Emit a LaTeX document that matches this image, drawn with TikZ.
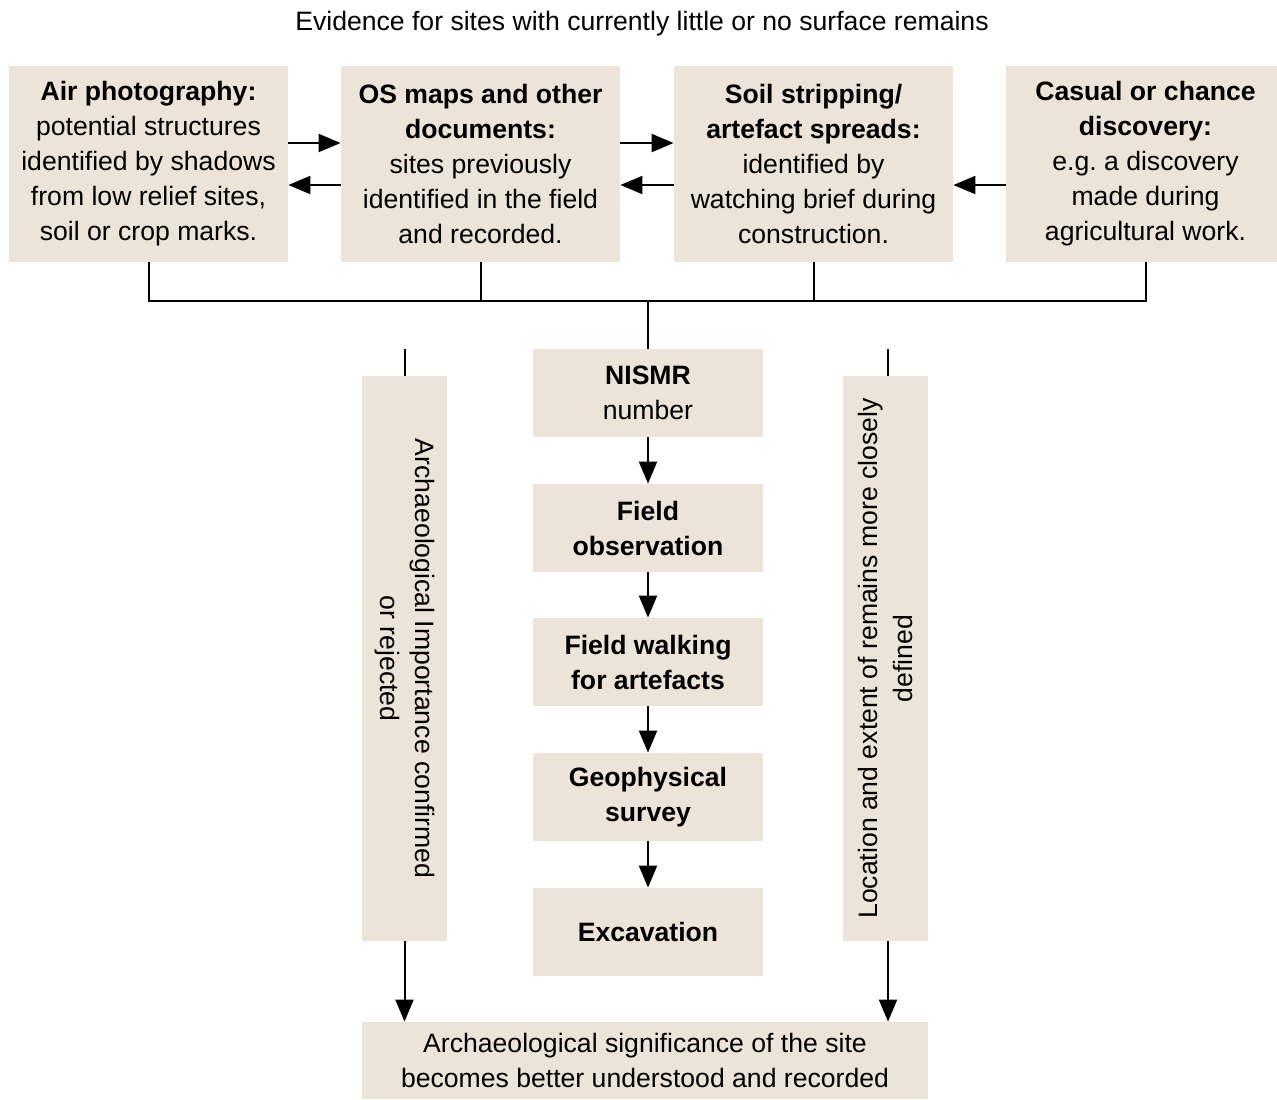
\documentclass[tikz,border=0pt]{standalone}
\usepackage{fontspec}
\setmainfont{Liberation Sans}
\usepackage{xcolor}
\usetikzlibrary{positioning,arrows.meta,calc}

\definecolor{boxbeige}{HTML}{ECE4D8}

\tikzset{
  box/.style={fill=boxbeige, align=center, inner sep=0pt,
    font=\fontsize{13.3}{17.5}\selectfont},
  evbox/.style={box, minimum width=139.5pt, minimum height=98pt},
  stepbox/.style={box, minimum width=115pt, minimum height=44pt, font=\fontsize{13.3}{17.5}\selectfont\bfseries},
  sidebar/.style={box, minimum width=282.5pt, minimum height=42.5pt},
  link/.style={line width=1pt},
  flow/.style={line width=1pt, -{Triangle[length=11pt,width=9pt]}}
}

\begin{document}
\begin{tikzpicture}[x=0.5pt, y=-0.5pt]
\useasboundingbox (0,0) rectangle (1277,1099);

% Title
\node[font=\fontsize{13.3}{17.5}\selectfont] (title) at (642,24)
  {Evidence for sites with currently little or no surface remains};

% Evidence boxes
\node[evbox] (air) at (148.5,164)
  {\textbf{Air photography:}\\potential structures\\identified by shadows\\from low relief sites,\\soil or crop marks.};
\node[evbox] (os) at (480.5,164)
  {\textbf{OS maps and other}\\\textbf{documents:}\\sites previously\\identified in the field\\and recorded.};
\node[evbox] (soil) at (813.5,164)
  {\textbf{Soil stripping/}\\\textbf{artefact spreads:}\\identified by\\watching brief during\\construction.};
\node[evbox] (casual) at (1145.5,164)
  {\textbf{Casual or chance}\\\textbf{discovery:}\\e.g.\ a discovery\\made during\\agricultural work.};

% Arrows between evidence boxes
\draw[flow] ([yshift=10.5pt]air.east) -- ([yshift=10.5pt]os.west);
\draw[flow] ([yshift=-10.5pt]os.west) -- ([yshift=-10.5pt]air.east);
\draw[flow] ([yshift=10.5pt]os.east) -- ([yshift=10.5pt]soil.west);
\draw[flow] ([yshift=-10.5pt]soil.west) -- ([yshift=-10.5pt]os.east);
\draw[flow] ([yshift=-10.5pt]casual.west) -- ([yshift=-10.5pt]soil.east);

% Central steps
\node[stepbox] (nismr) at (648,393) {NISMR\\\mdseries number};
\node[stepbox] (obs) at (648,528) {Field\\observation};
\node[stepbox] (walk) at (648,662) {Field walking\\for artefacts};
\node[stepbox] (geo) at (648,797) {Geophysical\\survey};
\node[stepbox] (exc) at (648,932) {Excavation};

% Joining line
\coordinate (hub) at (648,301);
\draw[link] (air.south) -- (air.south |- hub) -- (casual.south |- hub) -- (casual.south);
\draw[link] (os.south) -- (os.south |- hub);
\draw[link] (soil.south) -- (soil.south |- hub);
\draw[link] (hub) -- (nismr.north);

\draw[flow] (nismr) -- (obs);
\draw[flow] (obs) -- (walk);
\draw[flow] (walk) -- (geo);
\draw[flow] (geo) -- (exc);

% Side bars
\node[sidebar, rotate=-90] (lbar) at (404.5,658.5)
  {Archaeological Importance confirmed\\or rejected};
\node[sidebar, rotate=90] (rbar) at (885,658.5)
  {Location and extent of remains more closely\\defined};

\coordinate (lstub) at (404.5,349);
\coordinate (rstub) at (888,349);
\draw[link] (lstub) -- (lbar.west);
\draw[link] (rstub) -- (rstub |- rbar.east);

% Result
\node[box, minimum width=283pt, minimum height=38.5pt] (result) at (645,1060.5)
  {Archaeological significance of the site\\becomes better understood and recorded};

\draw[flow] (lbar.east) -- (lbar.east |- result.north);
\draw[flow] (rstub |- rbar.west) -- (rstub |- result.north);
\end{tikzpicture}
\end{document}
